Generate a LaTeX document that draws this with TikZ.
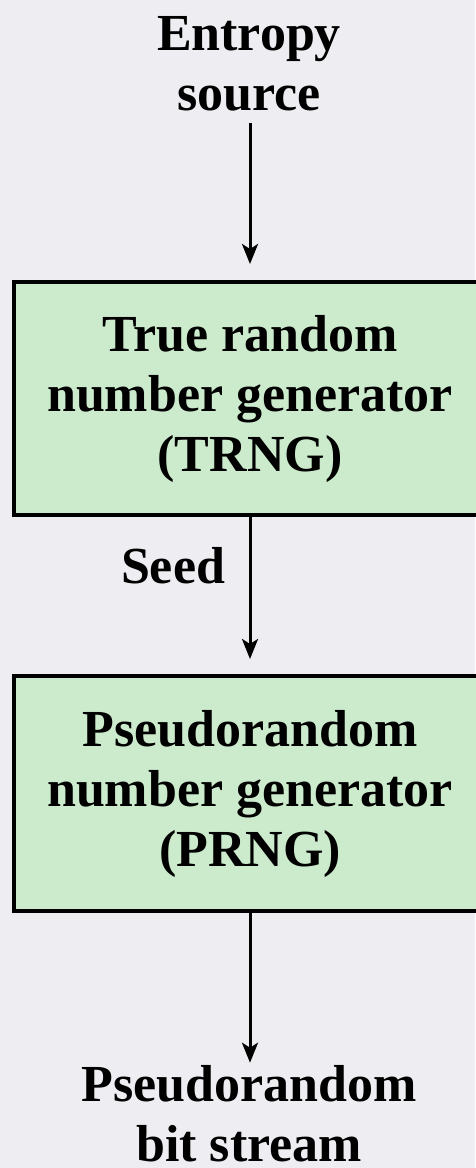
\documentclass[tikz,border=0pt]{standalone}
\usepackage{fontspec}
\setmainfont{Liberation Serif}
\usetikzlibrary{arrows.meta}
\definecolor{paper}{RGB}{238,237,241}
\definecolor{boxgreen}{RGB}{204,235,204}
\begin{document}
\begin{tikzpicture}[x=1pt,y=-1pt,
  every node/.style={font=\fontsize{52}{60}\selectfont\bfseries, inner sep=0pt, outer sep=0pt},
  genbox/.style={draw=black, line width=4pt, fill=boxgreen, minimum width=472pt, align=center},
  lbl/.style={align=center},
  flow/.style={line width=3pt, -{Stealth[length=20pt,width=16pt,inset=5pt]}}]
% paper background and page frame
\fill[paper] (0,0) rectangle (475,1168);
\useasboundingbox (0,0) rectangle (475,1168);

% input and output labels
\node[lbl] (src) at (249,64) {Entropy\\source};
\node[lbl] (out) at (249,1114) {Pseudorandom\\bit stream};

% the two generators
\node[genbox, minimum height=233pt] (trng) at (250,398.5) {True random\\number generator\\(TRNG)};
\node[genbox, minimum height=235pt] (prng) at (250,793.5) {Pseudorandom\\number generator\\(PRNG)};

% seed label beside the middle arrow
\node[anchor=base] (seed) at (173,583) {Seed};

% connectors
\draw[flow] ([yshift=-12pt]src.south -| trng.north) -- ([yshift=18pt]trng.north);
\draw[flow] (trng.south) -- ([yshift=17pt]prng.north);
\draw[flow] (prng.south) -- ([yshift=3pt]out.north -| prng.south);
\end{tikzpicture}
\end{document}
